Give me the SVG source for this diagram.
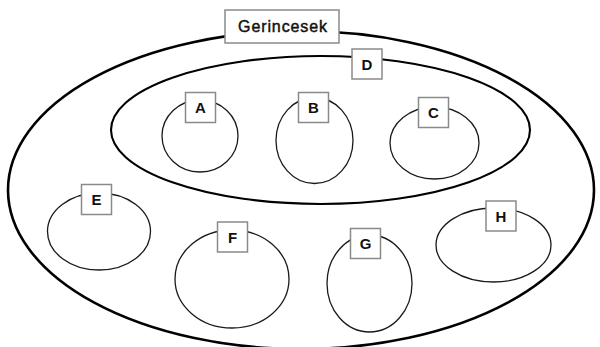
<svg xmlns="http://www.w3.org/2000/svg" width="600" height="347" viewBox="0 0 600 347">
<style>
.set{fill:none;stroke:#1a1a1a;stroke-width:1.3}
.lbl{fill:#fff;stroke:#8a8a8a;stroke-width:1.5}
.t{font-family:"Liberation Sans",Arial,sans-serif;font-weight:bold;font-size:15px;fill:#111;text-anchor:middle}
.title{font-family:"Liberation Sans",Arial,sans-serif;font-size:16px;letter-spacing:0.9px;fill:#111;stroke:#111;stroke-width:0.45;text-anchor:middle}
</style>
<rect width="600" height="347" fill="#fff"/>
<g id="Gerincesek">
<ellipse cx="301" cy="190" rx="293" ry="159" fill="none" stroke="#000" stroke-width="2.6"/>
<rect class="lbl" x="225" y="10" width="114" height="33"/>
<text class="title" x="283" y="32">Gerincesek</text>
</g>
<g id="D">
<ellipse cx="320.5" cy="130" rx="209.5" ry="74" fill="none" stroke="#000" stroke-width="2.1"/>
<rect class="lbl" x="352" y="49" width="30" height="30"/>
<text class="t" x="367" y="70">D</text>
</g>
<g id="A">
<ellipse class="set" cx="200" cy="136" rx="38" ry="36"/>
<rect class="lbl" x="185.5" y="92.5" width="30" height="30"/>
<text class="t" x="200.5" y="113">A</text>
</g>
<g id="B">
<ellipse class="set" cx="314.5" cy="140.5" rx="38.5" ry="43"/>
<rect class="lbl" x="298.5" y="92.5" width="30" height="30"/>
<text class="t" x="313.5" y="113">B</text>
</g>
<g id="C">
<ellipse class="set" cx="434.5" cy="143" rx="44.5" ry="36"/>
<rect class="lbl" x="418.5" y="97.5" width="30" height="30"/>
<text class="t" x="433.5" y="118">C</text>
</g>
<g id="E">
<ellipse class="set" cx="99" cy="231.5" rx="51.5" ry="38.5"/>
<rect class="lbl" x="81.5" y="184.5" width="30" height="30"/>
<text class="t" x="96.5" y="205">E</text>
</g>
<g id="F">
<ellipse class="set" cx="232" cy="279" rx="57" ry="49"/>
<rect class="lbl" x="217.5" y="222" width="30" height="30"/>
<text class="t" x="232.5" y="242.5">F</text>
</g>
<g id="G">
<ellipse class="set" cx="369.5" cy="283.5" rx="42.5" ry="48.5"/>
<rect class="lbl" x="350.5" y="228.5" width="30" height="30"/>
<text class="t" x="365.5" y="249">G</text>
</g>
<g id="H">
<ellipse class="set" cx="493.5" cy="245" rx="57.5" ry="37"/>
<rect class="lbl" x="486" y="201" width="30" height="30"/>
<text class="t" x="501" y="221.5">H</text>
</g>
<g id="connectors"/>
</svg>
